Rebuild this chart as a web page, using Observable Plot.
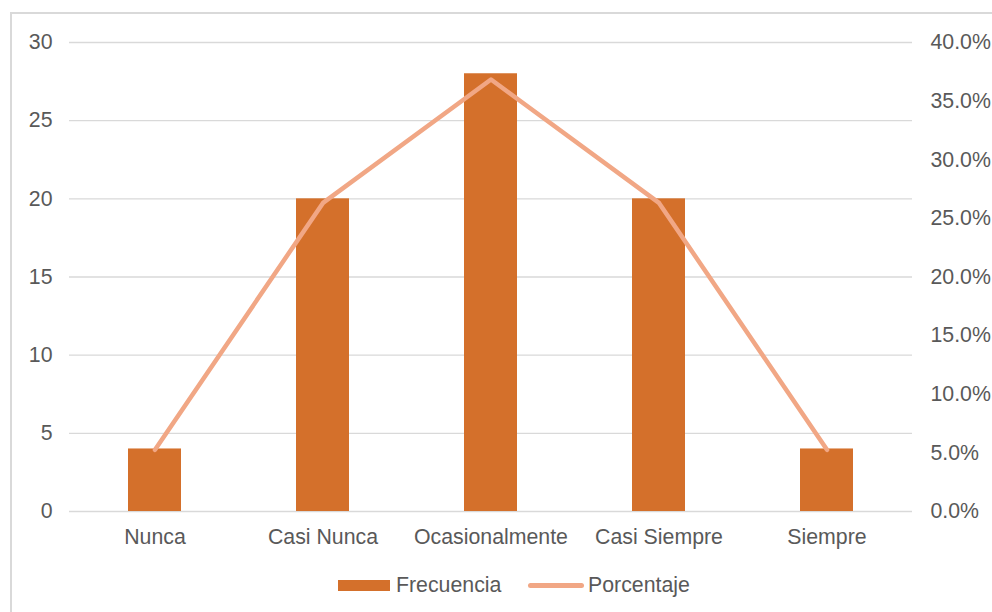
<!DOCTYPE html>
<html>
<head>
<meta charset="utf-8">
<script src="https://cdn.jsdelivr.net/npm/d3@7"></script>
<script src="https://cdn.jsdelivr.net/npm/@observablehq/plot@0.6"></script>
<style>
  html, body { margin: 0; padding: 0; background: #fff; }
  body { width: 992px; height: 612px; position: relative; overflow: hidden;
         font-family: "Liberation Sans", Arial, sans-serif; color: #595959; }
  #frame { position: absolute; left: 10px; top: 12px; width: 1000px; height: 620px;
           border: 2px solid #d9d9d9; box-sizing: border-box; }
  #chart { position: absolute; left: 0; top: 0; }
  #legend { position: absolute; left: 0; top: 568px; width: 992px; height: 34px;
            font-size: 21.3px; color: #595959; }
  .item { position: absolute; top: 0; display: flex; align-items: center; height: 34px; }
  .sw-bar { width: 52px; height: 11px; background: #d4702b; margin-right: 6px; }
  .sw-line { width: 56px; height: 5px; border-radius: 3px; background: #f1a785; margin-right: 4px; }
</style>
</head>
<body>
<div id="frame"></div>
<div id="chart"></div>
<div id="legend">
  <div class="item" style="left:338px"><span class="sw-bar"></span><span>Frecuencia</span></div>
  <div class="item" style="left:528px"><span class="sw-line"></span><span>Porcentaje</span></div>
</div>
<script>
// Categorías y valores
const categorias = ["Nunca", "Casi Nunca", "Ocasionalmente", "Casi Siempre", "Siempre"];
const frecuencia = [4, 20, 28, 20, 4];
const porcentaje = [5.26, 26.32, 36.84, 26.32, 5.26];   // % del total
const ticksIzq = [0, 5, 10, 15, 20, 25, 30];
const ticksDer = [0, 5, 10, 15, 20, 25, 30, 35, 40];     // %

// Eje derecho: 0–40 % sobre el mismo rango que 0–30 del izquierdo
const maxIzq = 30, maxDer = 40;
const toIzq = p => p * maxIzq / maxDer;

const datos = categorias.map((c, i) => ({
  cat: c, frec: frecuencia[i], pct: porcentaje[i], pctY: toIzq(porcentaje[i])
}));

const chart = Plot.plot({
  width: 992,
  height: 560,
  marginLeft: 69,
  marginRight: 80,
  marginTop: 42,
  marginBottom: 49,
  style: { fontFamily: "Liberation Sans, Arial, sans-serif", fontSize: "21.3px", color: "#595959", background: "transparent" },
  x: { domain: categorias, paddingInner: 0.685, paddingOuter: 0.3425, label: null },
  y: { domain: [0, maxIzq], label: null },
  marks: [
    Plot.ruleY(ticksIzq, { stroke: "#d9d9d9", strokeWidth: 1.4 }),
    Plot.barY(datos, { x: "cat", y: "frec", fill: "#d4702b" }),
    Plot.lineY(datos, { x: "cat", y: "pctY", stroke: "#f1a785", strokeWidth: 4.5, strokeLinecap: "round", strokeLinejoin: "round" }),
    Plot.axisY({ anchor: "left", ticks: ticksIzq, tickSize: 0, tickPadding: 17, label: null }),
    Plot.axisY({ anchor: "right", ticks: ticksDer.map(toIzq), tickSize: 0, tickPadding: 18, label: null,
                 tickFormat: d => (d * maxDer / maxIzq).toFixed(1) + "%" }),
    Plot.axisX({ tickSize: 0, tickPadding: 17, label: null })
  ]
});
document.getElementById("chart").appendChild(chart);
</script>
</body>
</html>
